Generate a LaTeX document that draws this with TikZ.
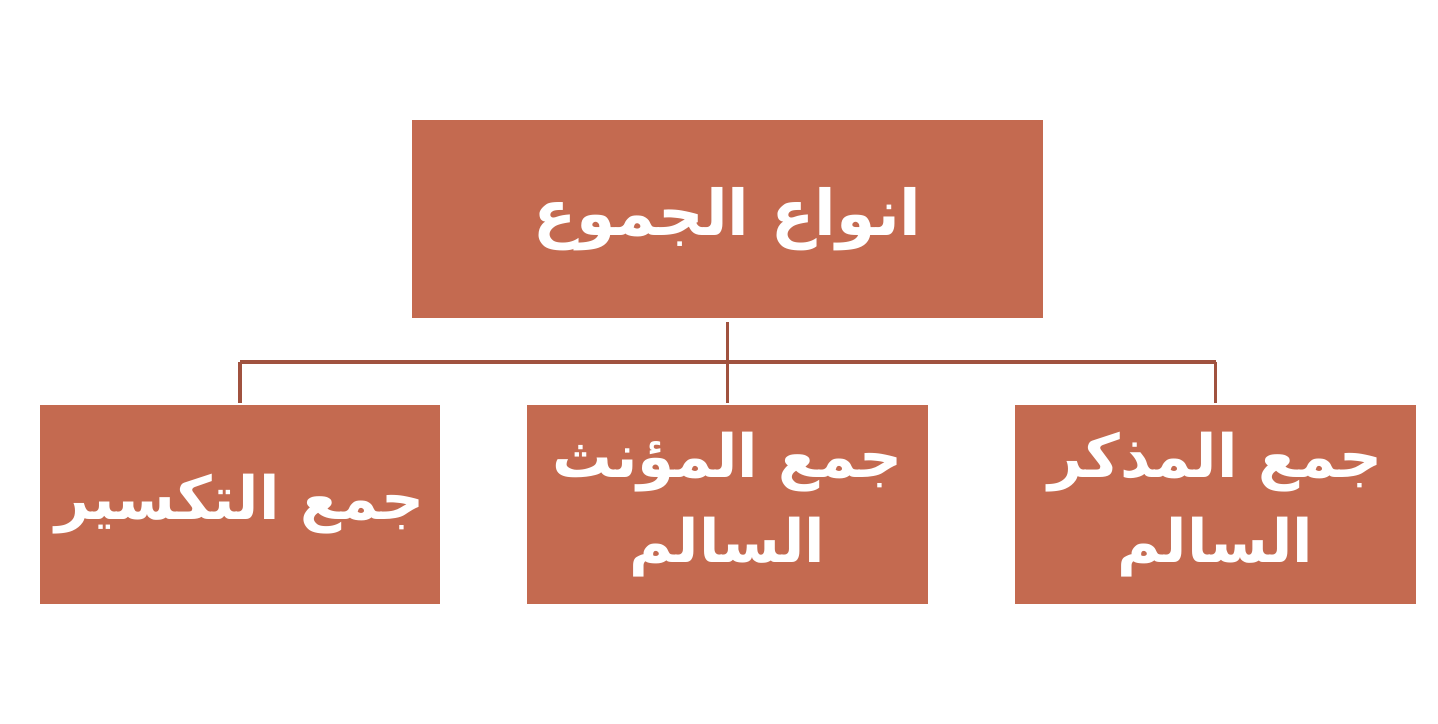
\documentclass[tikz,border=0pt]{standalone}
\usepackage{fontspec}
\TeXXeTstate=1
\newfontfamily\arabicfont[Script=Arabic]{DejaVu Sans}
\definecolor{boxfill}{HTML}{C46A50}
\definecolor{linkline}{HTML}{A0523F}
\tikzset{
    chartbox/.style={fill=boxfill, text=white, align=center, inner sep=0pt,
        minimum height=3.97cm, font=\arabicfont\bfseries\fontsize{34}{48}\selectfont},
    link/.style={draw=linkline, line width=2pt}
}
\begin{document}
\begin{tikzpicture}
        \useasboundingbox (0, 0) rectangle (28.76, 14.46);

        \node[chartbox, minimum width=12.62cm, font=\arabicfont\bfseries\fontsize{36}{48}\selectfont] (top) at (14.55, 10.08) { \beginR انواع الجموع\endR };

        \node[chartbox, minimum width=8cm] (left) at (4.8, 4.37) { \beginR جمع التكسير\endR };
        \node[chartbox, minimum width=8.02cm] (middle) at (14.55, 4.37) { \beginR جمع المؤنث\endR \\ \beginR السالم\endR };
        \node[chartbox, minimum width=8.02cm] (right) at (24.31, 4.37) { \beginR جمع المذكر\endR \\ \beginR السالم\endR };

        \coordinate (hub) at (14.55, 7.22);
        \draw[link, shorten <=2pt] (top.south) -- (hub);
        \draw[link] (left |- hub) -- (right |- hub);
        \draw[link, shorten >=1pt] (left |- hub) -- (left.north);
        \draw[link, shorten >=1pt] (hub) -- (middle.north);
        \draw[link, shorten >=1pt] (right |- hub) -- (right.north);
    \end{tikzpicture}
\end{document}
